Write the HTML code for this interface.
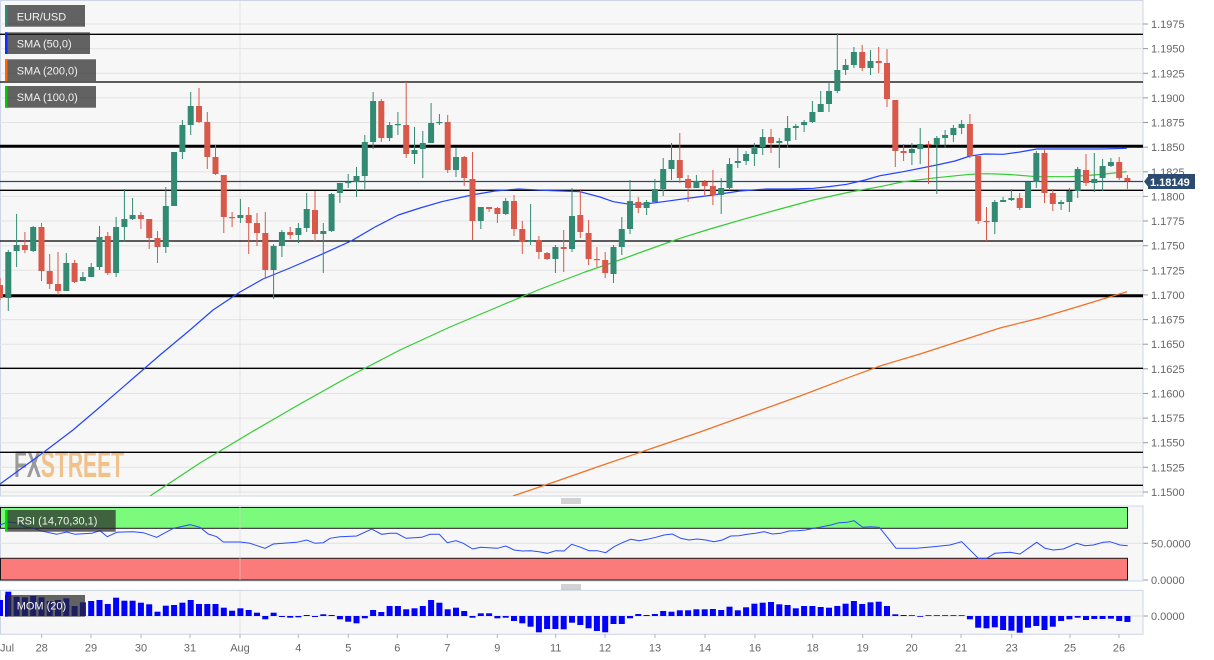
<!DOCTYPE html>
<html><head><meta charset="utf-8"><style>
html,body{margin:0;padding:0;background:#fff;}
svg{display:block;font-family:"Liberation Sans",Arial,sans-serif;}
</style></head><body>
<svg width="1214" height="660" viewBox="0 0 1214 660" xmlns="http://www.w3.org/2000/svg">
<defs>
<clipPath id="cm"><rect x="0" y="0" width="1143" height="496"/></clipPath>
<clipPath id="cr"><rect x="0" y="506" width="1143" height="75"/></clipPath>
<clipPath id="cb"><rect x="0" y="590" width="1143" height="45"/></clipPath>
</defs>
<!-- main panel -->
<rect x="0.5" y="0.5" width="1142.5" height="495.5" fill="#f7f7f7" stroke="#ccd4e6"/>
<g stroke="#e3e3e3" stroke-width="1">
<line x1="0" x2="1143" y1="24" y2="24"/><line x1="0" x2="1143" y1="48.6" y2="48.6"/><line x1="0" x2="1143" y1="73.3" y2="73.3"/><line x1="0" x2="1143" y1="97.9" y2="97.9"/><line x1="0" x2="1143" y1="122.5" y2="122.5"/><line x1="0" x2="1143" y1="147.2" y2="147.2"/><line x1="0" x2="1143" y1="171.8" y2="171.8"/><line x1="0" x2="1143" y1="196.4" y2="196.4"/><line x1="0" x2="1143" y1="221" y2="221"/><line x1="0" x2="1143" y1="245.7" y2="245.7"/><line x1="0" x2="1143" y1="270.3" y2="270.3"/><line x1="0" x2="1143" y1="294.9" y2="294.9"/><line x1="0" x2="1143" y1="319.6" y2="319.6"/><line x1="0" x2="1143" y1="344.2" y2="344.2"/><line x1="0" x2="1143" y1="368.8" y2="368.8"/><line x1="0" x2="1143" y1="393.5" y2="393.5"/><line x1="0" x2="1143" y1="418.1" y2="418.1"/><line x1="0" x2="1143" y1="442.7" y2="442.7"/><line x1="0" x2="1143" y1="467.3" y2="467.3"/><line x1="0" x2="1143" y1="492" y2="492"/>
<line x1="240" x2="240" y1="1" y2="495"/>
</g>
<!-- watermark -->
<text x="14" y="477" font-size="37" font-weight="bold" textLength="110" lengthAdjust="spacingAndGlyphs"><tspan fill="#9a9a9a">FX</tspan><tspan fill="#f0c189">STREET</tspan></text>
<!-- horizontal levels -->
<g stroke="#000" stroke-width="1.3">
<line x1="0" x2="1143" y1="34.3" y2="34.3"/><line x1="0" x2="1143" y1="82" y2="82"/><line x1="0" x2="1143" y1="190.3" y2="190.3"/><line x1="0" x2="1143" y1="241" y2="241"/><line x1="0" x2="1143" y1="368.3" y2="368.3"/><line x1="0" x2="1143" y1="452.3" y2="452.3"/><line x1="0" x2="1143" y1="485.3" y2="485.3"/>
</g>
<g stroke="#000" stroke-width="3">
<line x1="0" x2="1143" y1="146.3" y2="146.3"/><line x1="0" x2="1143" y1="295.8" y2="295.8"/>
</g>
<line x1="0" x2="1143" y1="181.5" y2="181.5" stroke="#2d4a6d" stroke-width="1.2"/>
<g clip-path="url(#cm)" fill="none" stroke-width="1.2" stroke-linejoin="round">
<polyline stroke="#2343ff" points="0,484 40,455 73,430 100,407 130,381 160,355 190,330 213,310 240,292 263,279 290,268 321.7,254.3 351.7,240.7 375,227 398.3,215 420,208 441.7,201.7 471.7,195 495,191 518.3,189 551.7,190.7 580,191.7 600,197 613.3,201.7 630,204.3 645,204 663.3,201.7 690,198 713.3,195 740,191 766.7,189 790,189 813.3,188.3 830,186.5 846.7,184.3 865,180 880,175.7 903.3,171.7 936.7,165 955,161 970,156 985,154 1003.3,154.3 1020,152 1036.7,149 1070,149 1100,149 1126.7,148.3"/>
<polyline stroke="#33cc33" points="150,496 200,463 250,433 300,404 350,376 400,350 450,327 500,306 538,290 585,272 613.3,262.3 650,249 680,238.3 710,229 746.7,218.3 780,209 813.3,200 850,192 880,186.7 903.3,181.7 936.7,177.7 970,174.3 986.7,173.7 1010,174.5 1036.7,176.7 1070,176.7 1100,174.5 1126.7,171.7"/>
<polyline stroke="#f07024" points="513,496 560,480 600,466 650,449 700,432 750,414 800,396 850,377 880,366 920,354 960,341 1000,328 1040,318 1080,306 1127,291.7"/>
</g>
<!-- candles -->
<g clip-path="url(#cm)">
<g fill="#338a73">
<rect x="7.8" y="250" width="1" height="61"/><rect x="5.3" y="252" width="6" height="46"/>
<rect x="16.1" y="214" width="1" height="53"/><rect x="13.6" y="245" width="6" height="6"/>
<rect x="32.7" y="226" width="1" height="26"/><rect x="30.2" y="227" width="6" height="24"/>
<rect x="65.8" y="253" width="1" height="38"/><rect x="63.3" y="263" width="6" height="28"/>
<rect x="82.4" y="272" width="1" height="9"/><rect x="79.9" y="277" width="6" height="4"/>
<rect x="90.7" y="263" width="1" height="14"/><rect x="88.2" y="267" width="6" height="10"/>
<rect x="99" y="226" width="1" height="44"/><rect x="96.5" y="237" width="6" height="30"/>
<rect x="115.6" y="217" width="1" height="60"/><rect x="113.1" y="227" width="6" height="46"/>
<rect x="123.9" y="189" width="1" height="53"/><rect x="121.4" y="219" width="6" height="8"/>
<rect x="132.1" y="198" width="1" height="22"/><rect x="129.6" y="215" width="6" height="4"/>
<rect x="165.3" y="187" width="1" height="66"/><rect x="162.8" y="206" width="6" height="41"/>
<rect x="173.6" y="152" width="1" height="54"/><rect x="171.1" y="152" width="6" height="54"/>
<rect x="181.9" y="120" width="1" height="39"/><rect x="179.4" y="125" width="6" height="27"/>
<rect x="190.2" y="92" width="1" height="43"/><rect x="187.7" y="106" width="6" height="19"/>
<rect x="239.9" y="199" width="1" height="24"/><rect x="237.4" y="215" width="6" height="3"/>
<rect x="273.1" y="244" width="1" height="55"/><rect x="270.6" y="246" width="6" height="24"/>
<rect x="281.4" y="230" width="1" height="27"/><rect x="278.9" y="232" width="6" height="14"/>
<rect x="297.9" y="223" width="1" height="20"/><rect x="295.4" y="228" width="6" height="7"/>
<rect x="306.2" y="193" width="1" height="39"/><rect x="303.7" y="209" width="6" height="19"/>
<rect x="322.8" y="223" width="1" height="50"/><rect x="320.3" y="231" width="6" height="3"/>
<rect x="331.1" y="193" width="1" height="39"/><rect x="328.6" y="194" width="6" height="37"/>
<rect x="339.4" y="183" width="1" height="20"/><rect x="336.9" y="183" width="6" height="10"/>
<rect x="347.7" y="174" width="1" height="14"/><rect x="345.2" y="182" width="6" height="1.2"/>
<rect x="356" y="167" width="1" height="30"/><rect x="353.5" y="176" width="6" height="6"/>
<rect x="364.3" y="135" width="1" height="54"/><rect x="361.8" y="142" width="6" height="34"/>
<rect x="372.6" y="92" width="1" height="57"/><rect x="370.1" y="101" width="6" height="41"/>
<rect x="389.1" y="122" width="1" height="19"/><rect x="386.6" y="125" width="6" height="13"/>
<rect x="397.4" y="112" width="1" height="23"/><rect x="394.9" y="124" width="6" height="1.2"/>
<rect x="414" y="127" width="1" height="37"/><rect x="411.5" y="150" width="6" height="4"/>
<rect x="422.3" y="131" width="1" height="47"/><rect x="419.8" y="143" width="6" height="6"/>
<rect x="430.6" y="103" width="1" height="40"/><rect x="428.1" y="123" width="6" height="20"/>
<rect x="438.9" y="114" width="1" height="11"/><rect x="436.4" y="122" width="6" height="1.2"/>
<rect x="455.5" y="148" width="1" height="29"/><rect x="453" y="157" width="6" height="13"/>
<rect x="480.3" y="207" width="1" height="22"/><rect x="477.8" y="207" width="6" height="14"/>
<rect x="505.2" y="198" width="1" height="17"/><rect x="502.7" y="201" width="6" height="13"/>
<rect x="530.1" y="204" width="1" height="41"/><rect x="527.6" y="240" width="6" height="1.2"/>
<rect x="554.9" y="245" width="1" height="28"/><rect x="552.4" y="247" width="6" height="12"/>
<rect x="571.5" y="188" width="1" height="64"/><rect x="569" y="216" width="6" height="33"/>
<rect x="613" y="245" width="1" height="38"/><rect x="610.5" y="247" width="6" height="27"/>
<rect x="621.3" y="217" width="1" height="38"/><rect x="618.8" y="229" width="6" height="18"/>
<rect x="629.5" y="180" width="1" height="54"/><rect x="627" y="201" width="6" height="28"/>
<rect x="646.1" y="200" width="1" height="15"/><rect x="643.6" y="202" width="6" height="6"/>
<rect x="654.4" y="179" width="1" height="23"/><rect x="651.9" y="189" width="6" height="13"/>
<rect x="662.7" y="158" width="1" height="38"/><rect x="660.2" y="169" width="6" height="20"/>
<rect x="671" y="143" width="1" height="37"/><rect x="668.5" y="160" width="6" height="9"/>
<rect x="695.9" y="175" width="1" height="13"/><rect x="693.4" y="181" width="6" height="7"/>
<rect x="720.7" y="178" width="1" height="36"/><rect x="718.2" y="188" width="6" height="7"/>
<rect x="729" y="158" width="1" height="31"/><rect x="726.5" y="164" width="6" height="24"/>
<rect x="737.3" y="148" width="1" height="20"/><rect x="734.8" y="161" width="6" height="2"/>
<rect x="745.6" y="151" width="1" height="14"/><rect x="743.1" y="154" width="6" height="7"/>
<rect x="753.9" y="143" width="1" height="23"/><rect x="751.4" y="147" width="6" height="7"/>
<rect x="762.2" y="129" width="1" height="26"/><rect x="759.7" y="137" width="6" height="10"/>
<rect x="778.8" y="138" width="1" height="30"/><rect x="776.3" y="141" width="6" height="2"/>
<rect x="787.1" y="116" width="1" height="32"/><rect x="784.6" y="128" width="6" height="13"/>
<rect x="795.3" y="124" width="1" height="16"/><rect x="792.8" y="126" width="6" height="2"/>
<rect x="803.6" y="120" width="1" height="12"/><rect x="801.1" y="122" width="6" height="3"/>
<rect x="811.9" y="101" width="1" height="22"/><rect x="809.4" y="112" width="6" height="10"/>
<rect x="820.2" y="91" width="1" height="21"/><rect x="817.7" y="104" width="6" height="8"/>
<rect x="828.5" y="82" width="1" height="30"/><rect x="826" y="91" width="6" height="13"/>
<rect x="836.8" y="33" width="1" height="60"/><rect x="834.3" y="70" width="6" height="21"/>
<rect x="845.1" y="59" width="1" height="16"/><rect x="842.6" y="65" width="6" height="5"/>
<rect x="853.4" y="47" width="1" height="21"/><rect x="850.9" y="52" width="6" height="13"/>
<rect x="870" y="50" width="1" height="25"/><rect x="867.5" y="61" width="6" height="7"/>
<rect x="911.4" y="143" width="1" height="22"/><rect x="908.9" y="149" width="6" height="4"/>
<rect x="919.7" y="128" width="1" height="36"/><rect x="917.2" y="144" width="6" height="5"/>
<rect x="936.3" y="136" width="1" height="58"/><rect x="933.8" y="138" width="6" height="7"/>
<rect x="944.6" y="130" width="1" height="18"/><rect x="942.1" y="135" width="6" height="3"/>
<rect x="952.9" y="125" width="1" height="17"/><rect x="950.4" y="128" width="6" height="7"/>
<rect x="961.1" y="120" width="1" height="14"/><rect x="958.6" y="124" width="6" height="4"/>
<rect x="994.3" y="200" width="1" height="34"/><rect x="991.8" y="202" width="6" height="20"/>
<rect x="1002.6" y="197" width="1" height="5"/><rect x="1000.1" y="200" width="6" height="2"/>
<rect x="1010.9" y="189" width="1" height="12"/><rect x="1008.4" y="198" width="6" height="2"/>
<rect x="1027.5" y="182" width="1" height="26"/><rect x="1025" y="182" width="6" height="26"/>
<rect x="1035.8" y="151" width="1" height="37"/><rect x="1033.3" y="153" width="6" height="29"/>
<rect x="1060.6" y="200" width="1" height="10"/><rect x="1058.1" y="202" width="6" height="2"/>
<rect x="1068.9" y="188" width="1" height="24"/><rect x="1066.4" y="191" width="6" height="11"/>
<rect x="1077.2" y="167" width="1" height="31"/><rect x="1074.7" y="169" width="6" height="22"/>
<rect x="1093.8" y="153" width="1" height="39"/><rect x="1091.3" y="179" width="6" height="4"/>
<rect x="1102.1" y="159" width="1" height="32"/><rect x="1099.6" y="166" width="6" height="12"/>
<rect x="1110.4" y="158" width="1" height="9"/><rect x="1107.9" y="162" width="6" height="4"/>
</g>
<g fill="#d8594a">
<rect x="-0.5" y="278" width="1" height="22"/><rect x="-3" y="285" width="6" height="13"/>
<rect x="24.4" y="232" width="1" height="21"/><rect x="21.9" y="245" width="6" height="5"/>
<rect x="41" y="223" width="1" height="58"/><rect x="38.5" y="227" width="6" height="44"/>
<rect x="49.2" y="254" width="1" height="35"/><rect x="46.7" y="271" width="6" height="13"/>
<rect x="57.5" y="252" width="1" height="43"/><rect x="55" y="284" width="6" height="7"/>
<rect x="74.1" y="260" width="1" height="23"/><rect x="71.6" y="263" width="6" height="19"/>
<rect x="107.3" y="232" width="1" height="43"/><rect x="104.8" y="236" width="6" height="37"/>
<rect x="140.4" y="212" width="1" height="17"/><rect x="137.9" y="215" width="6" height="4"/>
<rect x="148.7" y="219" width="1" height="30"/><rect x="146.2" y="219" width="6" height="19"/>
<rect x="157" y="231" width="1" height="32"/><rect x="154.5" y="238" width="6" height="9"/>
<rect x="198.5" y="88" width="1" height="35"/><rect x="196" y="106" width="6" height="16"/>
<rect x="206.8" y="112" width="1" height="57"/><rect x="204.3" y="122" width="6" height="35"/>
<rect x="215" y="145" width="1" height="30"/><rect x="212.5" y="157" width="6" height="17"/>
<rect x="223.3" y="175" width="1" height="58"/><rect x="220.8" y="175" width="6" height="42"/>
<rect x="231.6" y="212" width="1" height="15"/><rect x="229.1" y="217" width="6" height="1.2"/>
<rect x="248.2" y="207" width="1" height="47"/><rect x="245.7" y="215" width="6" height="8"/>
<rect x="256.5" y="213" width="1" height="33"/><rect x="254" y="223" width="6" height="10"/>
<rect x="264.8" y="212" width="1" height="67"/><rect x="262.3" y="233" width="6" height="37"/>
<rect x="289.7" y="227" width="1" height="12"/><rect x="287.2" y="232" width="6" height="3"/>
<rect x="314.5" y="191" width="1" height="50"/><rect x="312" y="210" width="6" height="24"/>
<rect x="380.8" y="99" width="1" height="43"/><rect x="378.3" y="101" width="6" height="37"/>
<rect x="405.7" y="82" width="1" height="76"/><rect x="403.2" y="125" width="6" height="29"/>
<rect x="447.2" y="115" width="1" height="58"/><rect x="444.7" y="122" width="6" height="48"/>
<rect x="463.7" y="156" width="1" height="30"/><rect x="461.2" y="157" width="6" height="21"/>
<rect x="472" y="152" width="1" height="88"/><rect x="469.5" y="179" width="6" height="42"/>
<rect x="488.6" y="207" width="1" height="5"/><rect x="486.1" y="207" width="6" height="2"/>
<rect x="496.9" y="207" width="1" height="16"/><rect x="494.4" y="208" width="6" height="6"/>
<rect x="513.5" y="195" width="1" height="41"/><rect x="511" y="201" width="6" height="28"/>
<rect x="521.8" y="221" width="1" height="33"/><rect x="519.3" y="229" width="6" height="13"/>
<rect x="538.4" y="236" width="1" height="23"/><rect x="535.9" y="240" width="6" height="12"/>
<rect x="546.6" y="252" width="1" height="8"/><rect x="544.1" y="253" width="6" height="6"/>
<rect x="563.2" y="230" width="1" height="42"/><rect x="560.7" y="247" width="6" height="2"/>
<rect x="579.8" y="189" width="1" height="49"/><rect x="577.3" y="215" width="6" height="17"/>
<rect x="588.1" y="220" width="1" height="45"/><rect x="585.6" y="233" width="6" height="26"/>
<rect x="596.4" y="247" width="1" height="20"/><rect x="593.9" y="259" width="6" height="1.2"/>
<rect x="604.7" y="252" width="1" height="26"/><rect x="602.2" y="260" width="6" height="13"/>
<rect x="637.8" y="197" width="1" height="16"/><rect x="635.3" y="202" width="6" height="6"/>
<rect x="679.3" y="133" width="1" height="50"/><rect x="676.8" y="160" width="6" height="18"/>
<rect x="687.6" y="175" width="1" height="27"/><rect x="685.1" y="179" width="6" height="9"/>
<rect x="704.2" y="180" width="1" height="15"/><rect x="701.7" y="182" width="6" height="4"/>
<rect x="712.4" y="170" width="1" height="35"/><rect x="709.9" y="186" width="6" height="9"/>
<rect x="770.5" y="129" width="1" height="24"/><rect x="768" y="137" width="6" height="6"/>
<rect x="861.7" y="45" width="1" height="26"/><rect x="859.2" y="52" width="6" height="16"/>
<rect x="878.2" y="47" width="1" height="26"/><rect x="875.7" y="61" width="6" height="2"/>
<rect x="886.5" y="49" width="1" height="58"/><rect x="884" y="63" width="6" height="36"/>
<rect x="894.8" y="100" width="1" height="67"/><rect x="892.3" y="100" width="6" height="51"/>
<rect x="903.1" y="144" width="1" height="17"/><rect x="900.6" y="151" width="6" height="2"/>
<rect x="928" y="141" width="1" height="43"/><rect x="925.5" y="144" width="6" height="1.2"/>
<rect x="969.4" y="114" width="1" height="44"/><rect x="966.9" y="124" width="6" height="32"/>
<rect x="977.7" y="156" width="1" height="68"/><rect x="975.2" y="156" width="6" height="65"/>
<rect x="986" y="207" width="1" height="34"/><rect x="983.5" y="221" width="6" height="1.2"/>
<rect x="1019.2" y="193" width="1" height="17"/><rect x="1016.7" y="198" width="6" height="10"/>
<rect x="1044" y="149" width="1" height="54"/><rect x="1041.5" y="153" width="6" height="40"/>
<rect x="1052.3" y="189" width="1" height="22"/><rect x="1049.8" y="193" width="6" height="11"/>
<rect x="1085.5" y="154" width="1" height="32"/><rect x="1083" y="170" width="6" height="13"/>
<rect x="1118.7" y="157" width="1" height="23"/><rect x="1116.2" y="162" width="6" height="16"/>
<rect x="1126.9" y="175" width="1" height="14"/><rect x="1124.4" y="178" width="6" height="3"/>
</g>
</g>
<!-- legend boxes -->
<g font-size="11" fill="#f2f2f2">
<rect x="5" y="5" width="80" height="21.7" fill="rgba(40,40,40,0.72)"/><rect x="5" y="5" width="2.5" height="21.7" fill="#2f8a75"/><text x="16.7" y="20.5">EUR/USD</text>
<rect x="5" y="32.3" width="85" height="21.7" fill="rgba(40,40,40,0.72)"/><rect x="5" y="32.3" width="2.5" height="21.7" fill="#0a2cff"/><text x="16.7" y="47.3">SMA (50,0)</text>
<rect x="5" y="59.3" width="91" height="21.7" fill="rgba(40,40,40,0.72)"/><rect x="5" y="59.3" width="2.5" height="21.7" fill="#ff6600"/><text x="16.7" y="74.3">SMA (200,0)</text>
<rect x="5" y="86" width="91" height="21.7" fill="rgba(40,40,40,0.72)"/><rect x="5" y="86" width="2.5" height="21.7" fill="#00cc00"/><text x="16.7" y="101">SMA (100,0)</text>
</g>
<!-- right axis main -->
<g stroke="#999" stroke-width="1">
<line x1="1143" x2="1148" y1="24" y2="24"/><line x1="1143" x2="1148" y1="48.6" y2="48.6"/><line x1="1143" x2="1148" y1="73.3" y2="73.3"/><line x1="1143" x2="1148" y1="97.9" y2="97.9"/><line x1="1143" x2="1148" y1="122.5" y2="122.5"/><line x1="1143" x2="1148" y1="147.2" y2="147.2"/><line x1="1143" x2="1148" y1="171.8" y2="171.8"/><line x1="1143" x2="1148" y1="196.4" y2="196.4"/><line x1="1143" x2="1148" y1="221" y2="221"/><line x1="1143" x2="1148" y1="245.7" y2="245.7"/><line x1="1143" x2="1148" y1="270.3" y2="270.3"/><line x1="1143" x2="1148" y1="294.9" y2="294.9"/><line x1="1143" x2="1148" y1="319.6" y2="319.6"/><line x1="1143" x2="1148" y1="344.2" y2="344.2"/><line x1="1143" x2="1148" y1="368.8" y2="368.8"/><line x1="1143" x2="1148" y1="393.5" y2="393.5"/><line x1="1143" x2="1148" y1="418.1" y2="418.1"/><line x1="1143" x2="1148" y1="442.7" y2="442.7"/><line x1="1143" x2="1148" y1="467.3" y2="467.3"/><line x1="1143" x2="1148" y1="492" y2="492"/>
<line x1="1143" x2="1148" y1="543.3" y2="543.3"/><line x1="1143" x2="1148" y1="580" y2="580"/><line x1="1143" x2="1148" y1="616" y2="616"/>
</g>
<g font-size="11" fill="#666">
<text x="1151" y="28">1.1975</text><text x="1151" y="52.6">1.1950</text><text x="1151" y="77.3">1.1925</text><text x="1151" y="101.9">1.1900</text><text x="1151" y="126.5">1.1875</text><text x="1151" y="151.2">1.1850</text><text x="1151" y="175.8">1.1825</text><text x="1151" y="200.4">1.1800</text><text x="1151" y="225">1.1775</text><text x="1151" y="249.7">1.1750</text><text x="1151" y="274.3">1.1725</text><text x="1151" y="298.9">1.1700</text><text x="1151" y="323.6">1.1675</text><text x="1151" y="348.2">1.1650</text><text x="1151" y="372.8">1.1625</text><text x="1151" y="397.5">1.1600</text><text x="1151" y="422.1">1.1575</text><text x="1151" y="446.7">1.1550</text><text x="1151" y="471.3">1.1525</text><text x="1151" y="496">1.1500</text>
<text x="1151" y="547.3">50.0000</text><text x="1151" y="584">0.0000</text><text x="1151" y="620">0.0000</text>
</g>
<path d="M1144,181.5 L1148,176.5 L1148,174 L1195,174 L1195,189 L1148,189 L1148,186.5 Z" fill="#2c4b70"/>
<text x="1150" y="185.8" font-size="11" font-weight="bold" fill="#fff">1.18149</text>
<!-- separators -->
<g stroke="#888" stroke-width="0.8">
<line x1="561" x2="581" y1="499" y2="499"/><line x1="561" x2="581" y1="501" y2="501"/><line x1="561" x2="581" y1="503" y2="503"/>
<line x1="561" x2="581" y1="585" y2="585"/><line x1="561" x2="581" y1="587" y2="587"/><line x1="561" x2="581" y1="589" y2="589"/>
</g>
<!-- RSI panel -->
<rect x="0.5" y="506" width="1142.5" height="75" fill="#f7f7f7" stroke="#ccd4e6"/>
<line x1="0" x2="1143" y1="543.3" y2="543.3" stroke="#e0e0e0"/>
<rect x="0.5" y="507.5" width="1127" height="20.8" fill="#7cfa7c" stroke="#1a1a1a" stroke-width="1"/>
<rect x="0.5" y="558.3" width="1127" height="21.7" fill="#fa7b79" stroke="#1a1a1a" stroke-width="1"/>
<line x1="240" x2="240" y1="507" y2="580" stroke="#d6d6d6" stroke-opacity="0.6"/>
<polyline clip-path="url(#cr)" fill="none" stroke="#2a4cff" stroke-width="1" points="0,525 8,522 17,523 25,527 33,528 40,530.7 56.7,534.3 66.7,532 75,534.3 91.7,533.3 100,530.7 107.3,536.7 116.7,532.3 133.3,531.7 143.3,532.7 156.7,537.3 173.3,528.3 190,524.7 200,527.3 208.3,534 216.7,536.7 223.3,542 240,542 250,543.3 265,548.3 273.3,544 283.3,543.3 296.7,542.3 306.7,540 315,543.3 323.3,542.7 330,538.3 340,536.7 356.7,536 371.7,529 381.7,534.3 390,533.3 396.7,533.3 406,538.3 421.7,537.3 430,534.3 439.3,534.3 447.3,542.7 456,540.7 463.3,543.3 472.7,549 480.7,547.3 489,547.7 497.3,548.3 505.7,546 514,550 522.3,551 530.7,550.7 539,551.7 547.3,553.3 555.7,550.7 564,551 571.7,544.3 580.7,547.3 589,550.7 597.3,550.7 605.7,552.7 614,546.7 622.3,542.7 630.7,539.3 639,540.7 647.3,539.3 655.7,537.3 664,535 672.3,534 680.7,538.3 689,540 697.3,539 705.7,540 714,541.7 722.3,540 730.7,536 739,535.7 747.3,534.3 755.7,533.3 764,531.7 772.3,534 780.7,533.3 789,531 797.3,530.7 805.7,530 814,528.3 822.3,526.7 830.7,525 839,522.7 847.3,522.3 854,520.7 862.7,527.3 871,526.7 879.3,527.3 887.7,537.7 896,548.3 905,548.3 916.7,548.3 933.3,546.7 950,545 961.7,541.7 978.3,558.3 986.7,558.3 995,553.3 1010,552.3 1020,554 1036.7,542.3 1045,548.3 1053.3,550 1063.3,549 1076.7,543.3 1085,545.7 1093.3,545 1103.3,542.3 1110,541.7 1120,545 1127.7,545.7"/>
<rect x="7.3" y="510" width="108.4" height="21.7" fill="rgba(40,40,40,0.72)"/>
<rect x="5" y="510" width="2.5" height="21.7" fill="#00e000"/>
<text x="16.7" y="524.7" font-size="11" fill="#f2f2f2">RSI (14,70,30,1)</text>
<!-- MOM panel -->
<rect x="0.5" y="590.3" width="1142.5" height="44" fill="#f7f7f7" stroke="#ccd4e6"/>
<line x1="0" x2="1143" y1="616" y2="616" stroke="#dedede"/>
<line x1="240" x2="240" y1="591" y2="634" stroke="#e0e0e0"/>
<g clip-path="url(#cb)" fill="#0000ff">
<rect x="-3" y="600" width="6" height="16"/><rect x="5.3" y="591.7" width="6" height="24.3"/><rect x="13.6" y="596.7" width="6" height="19.3"/><rect x="21.9" y="597.3" width="6" height="18.7"/><rect x="30.2" y="596" width="6" height="20"/><rect x="38.5" y="597.3" width="6" height="18.7"/><rect x="46.7" y="601" width="6" height="15"/><rect x="55" y="600" width="6" height="16"/><rect x="63.3" y="598.3" width="6" height="17.7"/><rect x="71.6" y="606" width="6" height="10"/><rect x="79.9" y="602.3" width="6" height="13.7"/><rect x="88.2" y="601" width="6" height="15"/><rect x="96.5" y="600" width="6" height="16"/><rect x="104.8" y="604" width="6" height="12"/><rect x="113.1" y="597.7" width="6" height="18.3"/><rect x="121.4" y="600.7" width="6" height="15.3"/><rect x="129.6" y="600.7" width="6" height="15.3"/><rect x="137.9" y="602.7" width="6" height="13.3"/><rect x="146.2" y="604.3" width="6" height="11.7"/><rect x="154.5" y="611.7" width="6" height="4.3"/><rect x="162.8" y="605.7" width="6" height="10.3"/><rect x="171.1" y="605" width="6" height="11"/><rect x="179.4" y="602.7" width="6" height="13.3"/><rect x="187.7" y="600" width="6" height="16"/><rect x="196" y="604" width="6" height="12"/><rect x="204.3" y="604" width="6" height="12"/><rect x="212.5" y="604" width="6" height="12"/><rect x="220.8" y="607.7" width="6" height="8.3"/><rect x="229.1" y="610.7" width="6" height="5.3"/><rect x="237.4" y="608.3" width="6" height="7.7"/><rect x="245.7" y="610" width="6" height="6"/><rect x="254" y="612.7" width="6" height="3.3"/><rect x="262.3" y="616" width="6" height="3.3"/><rect x="270.6" y="612.7" width="6" height="3.3"/><rect x="278.9" y="616" width="6" height="1"/><rect x="287.2" y="616" width="6" height="1.7"/><rect x="295.4" y="616" width="6" height="1.3"/><rect x="303.7" y="615" width="6" height="1"/><rect x="312" y="616" width="6" height="1"/><rect x="320.3" y="614.3" width="6" height="1.7"/><rect x="328.6" y="615" width="6" height="1"/><rect x="336.9" y="616" width="6" height="3.3"/><rect x="345.2" y="616" width="6" height="5.7"/><rect x="353.5" y="616" width="6" height="7.3"/><rect x="361.8" y="616" width="6" height="2.3"/><rect x="370.1" y="610" width="6" height="6"/><rect x="378.3" y="612" width="6" height="4"/><rect x="386.6" y="606" width="6" height="10"/><rect x="394.9" y="606" width="6" height="10"/><rect x="403.2" y="609.3" width="6" height="6.7"/><rect x="411.5" y="608.3" width="6" height="7.7"/><rect x="419.8" y="606" width="6" height="10"/><rect x="428.1" y="600" width="6" height="16"/><rect x="436.4" y="602.7" width="6" height="13.3"/><rect x="444.7" y="609.3" width="6" height="6.7"/><rect x="453" y="607.7" width="6" height="8.3"/><rect x="461.2" y="611" width="6" height="5"/><rect x="469.5" y="616" width="6" height="1.7"/><rect x="477.8" y="613.3" width="6" height="2.7"/><rect x="486.1" y="613.3" width="6" height="2.7"/><rect x="494.4" y="616" width="6" height="2.3"/><rect x="502.7" y="616" width="6" height="1.7"/><rect x="511" y="616" width="6" height="5"/><rect x="519.3" y="616" width="6" height="7.3"/><rect x="527.6" y="616" width="6" height="10.7"/><rect x="535.9" y="616" width="6" height="16.3"/><rect x="544.1" y="616" width="6" height="13"/><rect x="552.4" y="616" width="6" height="13"/><rect x="560.7" y="616" width="6" height="13.3"/><rect x="569" y="616" width="6" height="6.7"/><rect x="577.3" y="616" width="6" height="9"/><rect x="585.6" y="616" width="6" height="12.3"/><rect x="593.9" y="616" width="6" height="15"/><rect x="602.2" y="616" width="6" height="16.3"/><rect x="610.5" y="616" width="6" height="8"/><rect x="618.8" y="616" width="6" height="8"/><rect x="627" y="616" width="6" height="2.3"/><rect x="635.3" y="614" width="6" height="2"/><rect x="643.6" y="615" width="6" height="1"/><rect x="651.9" y="614" width="6" height="2"/><rect x="660.2" y="611" width="6" height="5"/><rect x="668.5" y="611.7" width="6" height="4.3"/><rect x="676.8" y="610.3" width="6" height="5.7"/><rect x="685.1" y="610.3" width="6" height="5.7"/><rect x="693.4" y="609.3" width="6" height="6.7"/><rect x="701.7" y="609.3" width="6" height="6.7"/><rect x="709.9" y="609" width="6" height="7"/><rect x="718.2" y="610" width="6" height="6"/><rect x="726.5" y="606.7" width="6" height="9.3"/><rect x="734.8" y="610.3" width="6" height="5.7"/><rect x="743.1" y="607.3" width="6" height="8.7"/><rect x="751.4" y="603.7" width="6" height="12.3"/><rect x="759.7" y="602.7" width="6" height="13.3"/><rect x="768" y="602" width="6" height="14"/><rect x="776.3" y="604.3" width="6" height="11.7"/><rect x="784.6" y="605" width="6" height="11"/><rect x="792.8" y="608.3" width="6" height="7.7"/><rect x="801.1" y="606" width="6" height="10"/><rect x="809.4" y="606" width="6" height="10"/><rect x="817.7" y="607" width="6" height="9"/><rect x="826" y="607.7" width="6" height="8.3"/><rect x="834.3" y="606" width="6" height="10"/><rect x="842.6" y="603.7" width="6" height="12.3"/><rect x="850.9" y="601" width="6" height="15"/><rect x="859.2" y="604" width="6" height="12"/><rect x="867.5" y="602.3" width="6" height="13.7"/><rect x="875.7" y="601.7" width="6" height="14.3"/><rect x="884" y="606" width="6" height="10"/><rect x="892.3" y="614.3" width="6" height="1.7"/><rect x="900.6" y="615" width="6" height="1"/><rect x="908.9" y="615.2" width="6" height="0.8"/><rect x="917.2" y="616" width="6" height="0.8"/><rect x="925.5" y="615.2" width="6" height="0.8"/><rect x="933.8" y="615.2" width="6" height="0.8"/><rect x="942.1" y="615.2" width="6" height="0.8"/><rect x="950.4" y="615.2" width="6" height="0.8"/><rect x="958.6" y="615.2" width="6" height="0.8"/><rect x="966.9" y="616" width="6" height="3.3"/><rect x="975.2" y="616" width="6" height="11.7"/><rect x="983.5" y="616" width="6" height="12.3"/><rect x="991.8" y="616" width="6" height="11.3"/><rect x="1000.1" y="616" width="6" height="14"/><rect x="1008.4" y="616" width="6" height="14.7"/><rect x="1016.7" y="616" width="6" height="16.7"/><rect x="1025" y="616" width="6" height="11.7"/><rect x="1033.3" y="616" width="6" height="10"/><rect x="1041.5" y="616" width="6" height="14"/><rect x="1049.8" y="616" width="6" height="10.7"/><rect x="1058.1" y="616" width="6" height="5"/><rect x="1066.4" y="616" width="6" height="3.3"/><rect x="1074.7" y="616" width="6" height="1.7"/><rect x="1083" y="616" width="6" height="4"/><rect x="1091.3" y="616" width="6" height="3"/><rect x="1099.6" y="616" width="6" height="3"/><rect x="1107.9" y="616" width="6" height="2.7"/><rect x="1116.2" y="616" width="6" height="5"/><rect x="1124.4" y="616" width="6" height="6"/>
</g>
<rect x="7.3" y="595" width="77.7" height="21.7" fill="rgba(40,40,40,0.72)"/>
<rect x="5" y="595" width="2.5" height="21.7" fill="#0000ff"/>
<text x="16.7" y="609.7" font-size="11" fill="#f2f2f2">MOM (20)</text>
<!-- x axis -->
<g stroke="#aab4c8" stroke-width="1">
<line x1="41.7" x2="41.7" y1="634" y2="638"/><line x1="91" x2="91" y1="634" y2="638"/><line x1="141" x2="141" y1="634" y2="638"/><line x1="190" x2="190" y1="634" y2="638"/><line x1="240" x2="240" y1="634" y2="638"/><line x1="298.3" x2="298.3" y1="634" y2="638"/><line x1="348.3" x2="348.3" y1="634" y2="638"/><line x1="397.3" x2="397.3" y1="634" y2="638"/><line x1="447.3" x2="447.3" y1="634" y2="638"/><line x1="497.3" x2="497.3" y1="634" y2="638"/><line x1="555.7" x2="555.7" y1="634" y2="638"/><line x1="605" x2="605" y1="634" y2="638"/><line x1="655" x2="655" y1="634" y2="638"/><line x1="705" x2="705" y1="634" y2="638"/><line x1="755" x2="755" y1="634" y2="638"/><line x1="812.7" x2="812.7" y1="634" y2="638"/><line x1="862.7" x2="862.7" y1="634" y2="638"/><line x1="911.7" x2="911.7" y1="634" y2="638"/><line x1="961" x2="961" y1="634" y2="638"/><line x1="1011.7" x2="1011.7" y1="634" y2="638"/><line x1="1070" x2="1070" y1="634" y2="638"/><line x1="1119" x2="1119" y1="634" y2="638"/>
</g>
<g font-size="11" fill="#666" text-anchor="middle">
<text x="7" y="651.7">Jul</text><text x="41.7" y="651.7">28</text><text x="91" y="651.7">29</text><text x="141" y="651.7">30</text><text x="190" y="651.7">31</text><text x="240" y="651.7">Aug</text><text x="298.3" y="651.7">4</text><text x="348.3" y="651.7">5</text><text x="397.3" y="651.7">6</text><text x="447.3" y="651.7">7</text><text x="497.3" y="651.7">9</text><text x="555.7" y="651.7">11</text><text x="605" y="651.7">12</text><text x="655" y="651.7">13</text><text x="705" y="651.7">14</text><text x="755" y="651.7">16</text><text x="812.7" y="651.7">18</text><text x="862.7" y="651.7">19</text><text x="911.7" y="651.7">20</text><text x="961" y="651.7">21</text><text x="1011.7" y="651.7">23</text><text x="1070" y="651.7">25</text><text x="1119" y="651.7">26</text>
</g>
</svg>
</body></html>
